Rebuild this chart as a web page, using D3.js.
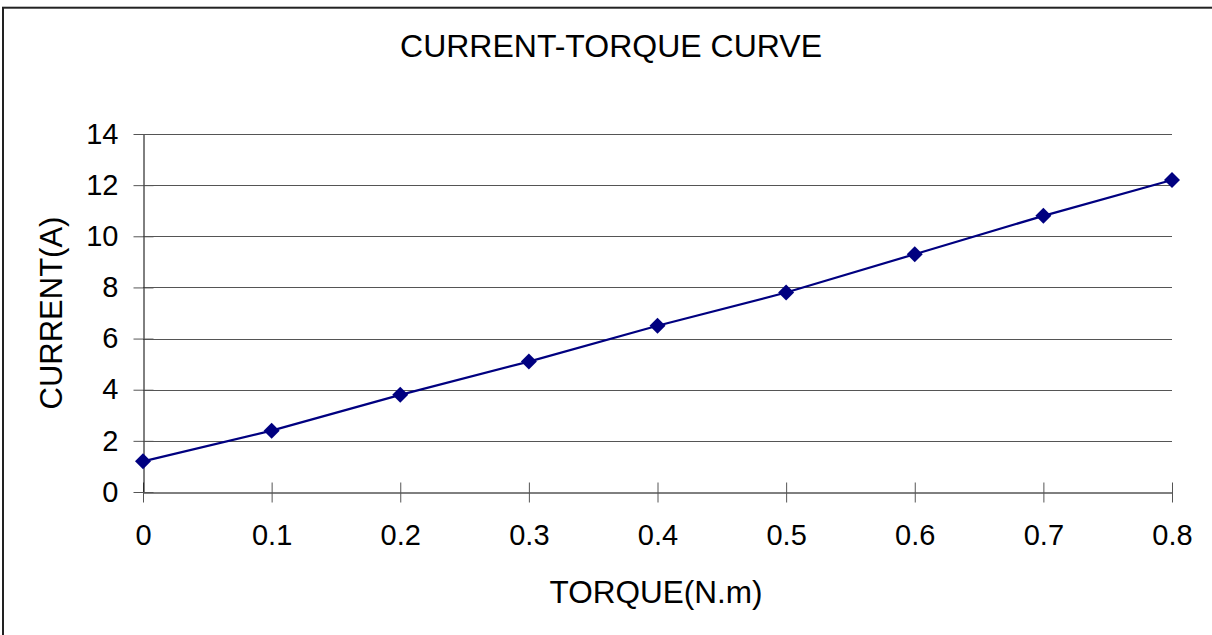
<!DOCTYPE html>
<html>
<head>
<meta charset="utf-8">
<script src="https://cdn.jsdelivr.net/npm/d3@7"></script>
<style>
  body { margin: 0; background: #fff; }
  text { font-family: "Liberation Sans", Arial, sans-serif; fill: #000; }
</style>
</head>
<body>
<div id="chart"></div>
<script>
const torque = [0, 0.1, 0.2, 0.3, 0.4, 0.5, 0.6, 0.7, 0.8];
const current = [1.2, 2.4, 3.8, 5.1, 6.5, 7.8, 9.3, 10.8, 12.2];
const xTicks = [0, 0.1, 0.2, 0.3, 0.4, 0.5, 0.6, 0.7, 0.8];
const yTicks = [0, 2, 4, 6, 8, 10, 12, 14];

const width = 1212;
const height = 635;

const svg = d3.select('#chart')
  .append('svg')
  .attr('width', width)
  .attr('height', height);

// chart area border (only left and top show inside the window)
svg.append('rect')
  .attr('x', 3)
  .attr('y', 7.7)
  .attr('width', 1300)
  .attr('height', 1000)
  .attr('fill', 'none')
  .attr('stroke', '#222')
  .attr('stroke-width', 2);

const x = d3.scaleLinear()
  .domain([0, 0.8])
  .range([143, 1172]);

const y = d3.scaleLinear()
  .domain([0, 14])
  .range([492, 134]);

// gridlines
svg.append('g')
  .selectAll('line')
  .data(yTicks.filter(d => d > 0))
  .join('line')
    .attr('x1', x(0))
    .attr('x2', x(0.8))
    .attr('y1', d => Math.round(y(d)) + 0.5)
    .attr('y2', d => Math.round(y(d)) + 0.5)
    .attr('stroke', '#555')
    .attr('stroke-width', 1);

function yAxis(g) {
  g.attr('transform', `translate(${x(0) + 0.5},0)`)
    .call(d3.axisLeft(y).tickValues(yTicks).tickSizeInner(10).tickSizeOuter(0).tickPadding(15).tickFormat(d3.format('d')))
    .attr('font-size', '29px')
    .attr('font-family', '"Liberation Sans", Arial, sans-serif');
  g.select('.domain').attr('stroke', '#000');
  g.selectAll('.tick line').attr('x2', 10).attr('x1', -10).attr('stroke', '#555');
  g.selectAll('.tick text').attr('fill', '#000');
}

function xAxis(g) {
  g.attr('transform', `translate(0,${y(0) + 0.5})`)
    .call(d3.axisBottom(x).tickValues(xTicks).tickSizeInner(10).tickSizeOuter(0).tickPadding(22).tickFormat(d => d === 0 ? '0' : d3.format('.1f')(d)))
    .attr('font-size', '29px')
    .attr('font-family', '"Liberation Sans", Arial, sans-serif');
  g.select('.domain').attr('stroke', '#000');
  g.selectAll('.tick line').attr('y1', -10).attr('y2', 10).attr('stroke', '#555');
  g.selectAll('.tick text').attr('fill', '#000');
}

svg.append('g').call(xAxis);
svg.append('g').call(yAxis);

// series line
const pts = torque.map((t, i) => [t, current[i]]);
svg.append('path')
  .datum(pts)
  .attr('fill', 'none')
  .attr('stroke', '#000080')
  .attr('stroke-width', 2.2)
  .attr('d', d3.line().x(d => x(d[0])).y(d => y(d[1])));

// diamond markers
svg.append('g')
  .selectAll('path')
  .data(pts)
  .join('path')
    .attr('transform', d => `translate(${x(d[0])},${y(d[1])})`)
    .attr('d', 'M0,-8L8,0L0,8L-8,0Z')
    .attr('fill', '#000080');

// titles
svg.append('text')
  .attr('x', 611)
  .attr('y', 57)
  .attr('text-anchor', 'middle')
  .attr('font-size', '32px')
  .text('CURRENT-TORQUE CURVE');

svg.append('text')
  .attr('x', 656)
  .attr('y', 603)
  .attr('text-anchor', 'middle')
  .attr('font-size', '31.5px')
  .text('TORQUE(N.m)');

svg.append('text')
  .attr('transform', 'translate(62,313) rotate(-90)')
  .attr('text-anchor', 'middle')
  .attr('font-size', '31px')
  .text('CURRENT(A)');
</script>
</body>
</html>
